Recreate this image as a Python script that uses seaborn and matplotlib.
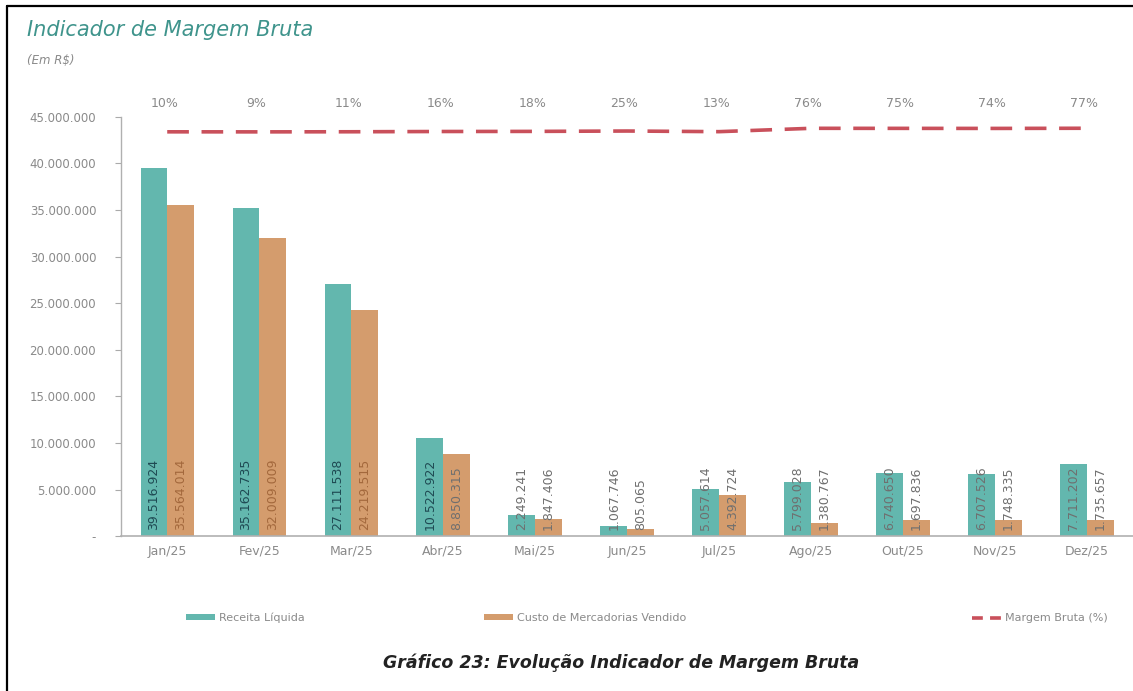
import matplotlib
matplotlib.use("Agg")
import matplotlib.pyplot as plt
from matplotlib.lines import Line2D
from matplotlib.patches import Patch
import seaborn as sns
import pandas as pd
import numpy as np

meses = ["Jan/25", "Fev/25", "Mar/25", "Abr/25", "Mai/25", "Jun/25",
         "Jul/25", "Ago/25", "Out/25", "Nov/25", "Dez/25"]
receita = [39516924, 35162735, 27111538, 10522922, 2249241, 1067746,
           5057614, 5799028, 6740650, 6707526, 7711202]
custo = [35564014, 32009009, 24219515, 8850315, 1847406, 805065,
         4392724, 1380767, 1697836, 1748335, 1735657]
margem = [0.10, 0.09, 0.11, 0.16, 0.18, 0.25, 0.13, 0.76, 0.75, 0.74, 0.77]
margem_labels = ["10%", "9%", "11%", "16%", "18%", "25%", "13%", "76%", "75%", "74%", "77%"]
yticks = [0, 5000000, 10000000, 15000000, 20000000, 25000000, 30000000,
          35000000, 40000000, 45000000]

s_rec = "Receita Líquida"
s_cus = "Custo de Mercadorias Vendido"
s_mar = "Margem Bruta (%)"

TEAL = "#63b7ae"
ORANGE = "#d49c6d"
RED = "#c9505b"
GRAY = "#8a8a8a"

df = pd.DataFrame({
    "mes": meses * 2,
    "valor": receita + custo,
    "serie": [s_rec] * len(meses) + [s_cus] * len(meses),
})

sns.set_theme(style="white")
plt.rcParams["font.family"] = ["DejaVu Sans"]

fig = plt.figure(figsize=(11.33, 6.91), dpi=100)
ax = fig.add_axes([0.107, 0.224, 0.893, 0.607])

sns.barplot(data=df, x="mes", y="valor", hue="serie", palette=[TEAL, ORANGE],
            width=0.58, gap=0, ax=ax, legend=False, saturation=1, linewidth=0)

ax.set_ylim(0, 45000000)
ax.set_xlim(-0.5, 10.5)
ax.set_yticks(yticks)
ax.set_yticklabels(["-"] + [f"{v:,}".replace(",", ".") for v in yticks[1:]],
                   color=GRAY, fontsize=8.5)
ax.tick_params(axis="y", length=4, width=0.8, color="#aaaaaa", left=True, pad=14)
ax.tick_params(axis="x", length=0, labelsize=9, labelcolor=GRAY, pad=6)
ax.set_xlabel("")
ax.set_ylabel("")
for s in ["top", "right"]:
    ax.spines[s].set_visible(False)
ax.spines["left"].set_color("#b0b0b0")
ax.spines["bottom"].set_color("#b0b0b0")
ax.spines["left"].set_linewidth(1)
ax.spines["bottom"].set_linewidth(1.2)

# bar value labels
label_colors = ["#1f4a53", "#a3683c"]
label_span = 9300000  # approx value-height occupied by the rotated label
for ci, cont in enumerate(ax.containers):
    vals = receita if ci == 0 else custo
    for bar, v in zip(cont, vals):
        xc = bar.get_x() + bar.get_width() / 2
        col = label_colors[ci] if v > label_span else "#6f6f6f"
        ax.annotate(f"{v:,}".replace(",", "."), xy=(xc, 0), xytext=(0, 6),
                    textcoords="offset pixels", rotation=90, ha="center",
                    va="bottom", fontsize=9, color=col)

# margin line on secondary axis
ax2 = ax.twinx()
sns.lineplot(x=np.arange(len(meses)), y=margem, ax=ax2, color=RED, linewidth=2.6,
             dashes=False, legend=False)
ax2.lines[0].set_dashes([6, 3.5])
ax2.set_ylim(-76, 2.93)
ax2.set_yticks([])
ax2.set_ylabel("")
for s in ax2.spines.values():
    s.set_visible(False)

for i, lab in enumerate(margem_labels):
    ax.annotate(lab, xy=(i, 1), xycoords=("data", "axes fraction"),
                xytext=(-3, 13), textcoords="offset pixels", ha="center",
                va="center", fontsize=9, color=GRAY)

# titles
fig.text(27 / 1133, 1 - 30 / 691, "Indicador de Margem Bruta", fontsize=15,
         style="italic", color="#3f948c", va="center", ha="left")
fig.text(27 / 1133, 1 - 60 / 691, "(Em R$)", fontsize=8.5, style="italic",
         color=GRAY, va="center", ha="left")
fig.text(621 / 1133, 1 - 663 / 691, "Gráfico 23: Evolução Indicador de Margem Bruta",
         fontsize=12.5, style="italic", fontweight="bold", color="#222222",
         va="center", ha="center")

# legends
leg_y = 1 - 618 / 691
h1 = Patch(facecolor=TEAL, edgecolor="none")
h2 = Patch(facecolor=ORANGE, edgecolor="none")
h3 = Line2D([0], [0], color=RED, linewidth=2.6, dashes=[3, 2])
for h, lab, x0 in [(h1, s_rec, 182), (h2, s_cus, 480), (h3, s_mar, 968)]:
    fig.legend([h], [lab], loc="center left", bbox_to_anchor=(x0 / 1133, leg_y),
               frameon=False, fontsize=8, labelcolor=GRAY, handlelength=2.6,
               handleheight=0.45, handletextpad=0.3, borderaxespad=0)

# partial border (top and left)
fig.add_artist(Line2D([7 / 1133, 1], [1 - 6 / 691, 1 - 6 / 691], color="black",
                      linewidth=1.6, transform=fig.transFigure))
fig.add_artist(Line2D([7 / 1133, 7 / 1133], [0, 1 - 6 / 691], color="black",
                      linewidth=1.6, transform=fig.transFigure))

fig.savefig("out.png", dpi=100, facecolor="white")
